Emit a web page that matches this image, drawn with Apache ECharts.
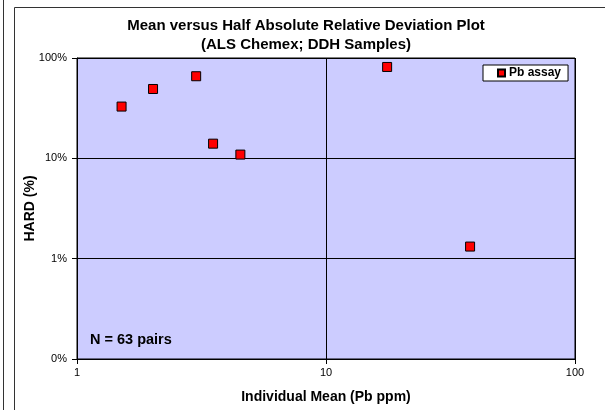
<!DOCTYPE html>
<html><head><meta charset="utf-8">
<script src="https://cdn.jsdelivr.net/npm/echarts@6/dist/echarts.min.js"></script>
<style>html,body{margin:0;padding:0;background:#fff}#c{width:605px;height:410px}</style>
</head><body><div id="c"></div>
<script>
var titleLines = ['Mean versus Half Absolute Relative Deviation Plot', '(ALS Chemex; DDH Samples)'];
var seriesName = 'Pb assay';
var xMean = [1.51, 2.02, 3.01, 3.52, 4.53, 17.6, 37.9];
var hard = [0.328, 0.491, 0.658, 0.140, 0.109, 0.814, 0.0132];
var yTicks = [0.001, 0.01, 0.1, 1];
var yTickLabels = ['0%', '1%', '10%', '100%'];
var xAxisName = 'Individual Mean (Pb ppm)';
var yAxisName = 'HARD (%)';
var note = 'N = 63 pairs';

var FONT = 'Liberation Sans, Arial, sans-serif';
var chart = echarts.init(document.getElementById('c'), null, {renderer: 'canvas'});
var data = xMean.map(function (x, i) { return [x, hard[i]]; });
chart.setOption({
  animation: false,
  backgroundColor: '#fff',
  title: {
    text: titleLines.join('\n'),
    left: 306, top: 16, textAlign: 'center', padding: 0,
    textStyle: {fontFamily: FONT, fontSize: 15, fontWeight: 'bold', color: '#000', lineHeight: 19}
  },
  legend: {
    data: [seriesName],
    left: 483, top: 65,
    backgroundColor: '#fff', borderColor: '#000', borderWidth: 1,
    padding: [2, 7, 2, 14],
    icon: 'rect', itemWidth: 7, itemHeight: 7, itemGap: 4,
    textStyle: {fontFamily: FONT, fontSize: 12, fontWeight: 'bold', color: '#000', padding: [0, 0, 0, -1]}
  },
  grid: {left: 77, top: 58, right: 30, bottom: 51, show: true, backgroundColor: '#CCCCFF', borderColor: '#000', borderWidth: 1},
  xAxis: {
    type: 'log', logBase: 10, min: 1, max: 100,
    name: xAxisName, nameLocation: 'middle', nameGap: 31,
    nameTextStyle: {fontFamily: FONT, fontSize: 14, fontWeight: 'bold', color: '#000'},
    axisLine: {lineStyle: {color: '#000', width: 1}},
    axisTick: {show: true, inside: false, length: 5, lineStyle: {color: '#000'}},
    axisLabel: {fontFamily: FONT, fontSize: 11, color: '#000', margin: 8},
    splitLine: {show: true, lineStyle: {color: '#000', width: 1}},
    minorTick: {show: false}
  },
  yAxis: {
    type: 'log', logBase: 10, min: 0.001, max: 1,
    name: yAxisName, nameLocation: 'middle', nameGap: 40, nameMoveOverlap: false,
    nameTextStyle: {fontFamily: FONT, fontSize: 14, fontWeight: 'bold', color: '#000'},
    axisLine: {show: true, lineStyle: {color: '#000', width: 1}},
    axisTick: {show: true, inside: false, length: 5, lineStyle: {color: '#000'}},
    axisLabel: {
      fontFamily: FONT, fontSize: 11, color: '#000', margin: 10,
      formatter: function (v) {
        for (var i = 0; i < yTicks.length; i++) {
          if (Math.abs(Math.log10(v) - Math.log10(yTicks[i])) < 1e-6) return yTickLabels[i];
        }
        return '';
      }
    },
    splitLine: {show: true, lineStyle: {color: '#000', width: 1}}
  },
  graphic: [
    {type: 'rect', left: 12, top: 5, shape: {width: 591, height: 410}, style: {fill: 'none', stroke: '#333', lineWidth: 1}, z: 0, silent: true},
    {type: 'line', shape: {x1: 3.5, y1: 0, x2: 3.5, y2: 410}, style: {stroke: '#333', lineWidth: 1}, silent: true},
    {type: 'text', left: 90, top: 332, style: {text: note, fontFamily: FONT, fontSize: 14.5, fontWeight: 'bold', fill: '#000'}, z: 10}
  ],
  series: [{
    name: seriesName, type: 'scatter',
    symbol: 'rect', symbolSize: 9,
    itemStyle: {color: '#FF0000', borderColor: '#000', borderWidth: 1, opacity: 1},
    data: data, z: 5
  }]
});
</script></body></html>
